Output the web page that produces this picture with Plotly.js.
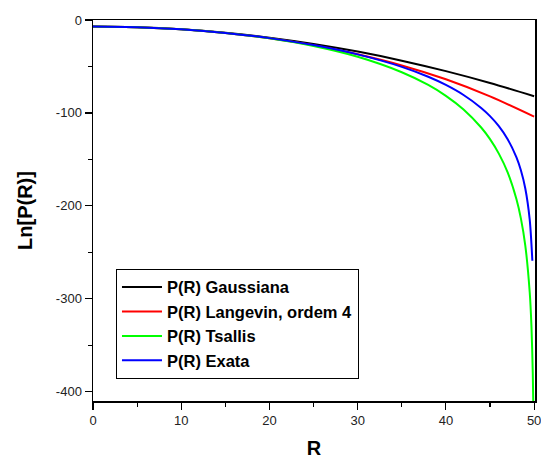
<!DOCTYPE html>
<html>
<head>
<meta charset="utf-8">
<script src="https://cdn.plot.ly/plotly-3.0.1.min.js"></script>
<style>html,body{margin:0;padding:0;background:#fff;}#chart{width:541px;height:459px;}</style>
</head>
<body>
<div id="chart"></div>
<script>
// Values
const rGauss = [0, 5, 10, 15, 20, 25, 30, 35, 40, 45, 50];
const lnGauss = [-7, -7.75, -10, -13.75, -19, -25.75, -34, -43.75, -55, -67.75, -82];

const rLang = [0, 5, 10, 15, 20, 25, 30, 35, 40, 45, 50];
const lnLang = [-7, -7.75, -10.04, -13.93, -19.58, -27.16, -36.9, -48.9, -63.8, -82.2, -104];

const rTsallis = [0, 5, 10, 15, 20, 25, 30, 35, 38, 40, 42, 44, 45, 46, 47, 48, 48.5, 49, 49.5, 49.7, 49.85, 49.9];
const lnTsallis = [-7, -7.73, -9.98, -13.88, -19.73, -28.0, -39.6, -56.2, -69.9, -81.6, -96.3, -115.7, -128.2, -143.8, -164.0, -192.9, -213.5, -242.7, -293, -330, -380.6, -410];

const rExata = [0, 5, 10, 15, 20, 25, 30, 35, 38, 40, 42, 44, 45, 46, 47, 48, 48.5, 49, 49.5, 49.8];
const lnExata = [-7, -7.75, -10.03, -13.9, -19.5, -27.0, -37.0, -50.4, -61.1, -69.9, -80.7, -94.6, -103.4, -114.2, -128.2, -147.8, -161.7, -181.3, -214.8, -259];

const xTicks = [0, 10, 20, 30, 40, 50];
const xTickText = ["0", "10", "20", "30", "40", "50"];
const yTicks = [0, -100, -200, -300, -400];
const yTickText = ["0", "-100", "-200", "-300", "-400"];

const names = ["P(R) Gaussiana", "P(R) Langevin, ordem 4", "P(R) Tsallis", "P(R) Exata"];
const colors = ["#000000", "#ff0000", "#00ff00", "#0000ff"];

const xs = [rGauss, rLang, rTsallis, rExata];
const ys = [lnGauss, lnLang, lnTsallis, lnExata];

const data = names.map((n, i) => ({
  x: xs[i], y: ys[i], name: n, type: "scatter", mode: "lines",
  legendgroup: "g" + i,
  line: {color: colors[i], width: 2, shape: "spline", smoothing: 0.8}
}));

const axisCommon = {
  showline: true, linecolor: "#000", linewidth: 1.5, mirror: true,
  showgrid: false, zeroline: false, ticks: "outside", tickcolor: "#000",
  tickwidth: 1.2, ticklen: 7, ticklabeloverflow: "allow",
  tickfont: {family: "Liberation Sans, Arial, sans-serif", size: 13, color: "#222"}
};

const layout = {
  width: 541, height: 459,
  margin: {l: 93, r: 6, t: 20, b: 58},
  paper_bgcolor: "#fff", plot_bgcolor: "#fff",
  showlegend: true,
  legend: {
    x: 0.052, y: 0.347, xanchor: "left", yanchor: "top",
    bordercolor: "#000", borderwidth: 1, bgcolor: "#fff",
    traceorder: "grouped", tracegroupgap: 0, itemwidth: 40,
    font: {family: "Liberation Sans, Arial, sans-serif", size: 16.5, color: "#000", weight: "bold"}
  },
  xaxis: Object.assign({}, axisCommon, {
    range: [0, 50.1], tickmode: "array", tickvals: xTicks, ticktext: xTickText,
    minor: {tickvals: [5, 15, 25, 35, 45], ticks: "outside", ticklen: 4, tickcolor: "#000", tickwidth: 1.2},
    title: {text: "R", standoff: 14, font: {family: "Liberation Sans, Arial, sans-serif", size: 20, color: "#000", weight: "bold"}}
  }),
  yaxis: Object.assign({}, axisCommon, {
    range: [-410, 0], tickmode: "array", tickvals: yTicks, ticktext: yTickText,
    minor: {tickvals: [-50, -150, -250, -350], ticks: "outside", ticklen: 4, tickcolor: "#000", tickwidth: 1.2},
    title: {text: "Ln[P(R)]", standoff: 18, font: {family: "Liberation Sans, Arial, sans-serif", size: 20, color: "#000", weight: "bold"}}
  })
};

Plotly.newPlot("chart", data, layout, {displayModeBar: false, staticPlot: true});
</script>
</body>
</html>
